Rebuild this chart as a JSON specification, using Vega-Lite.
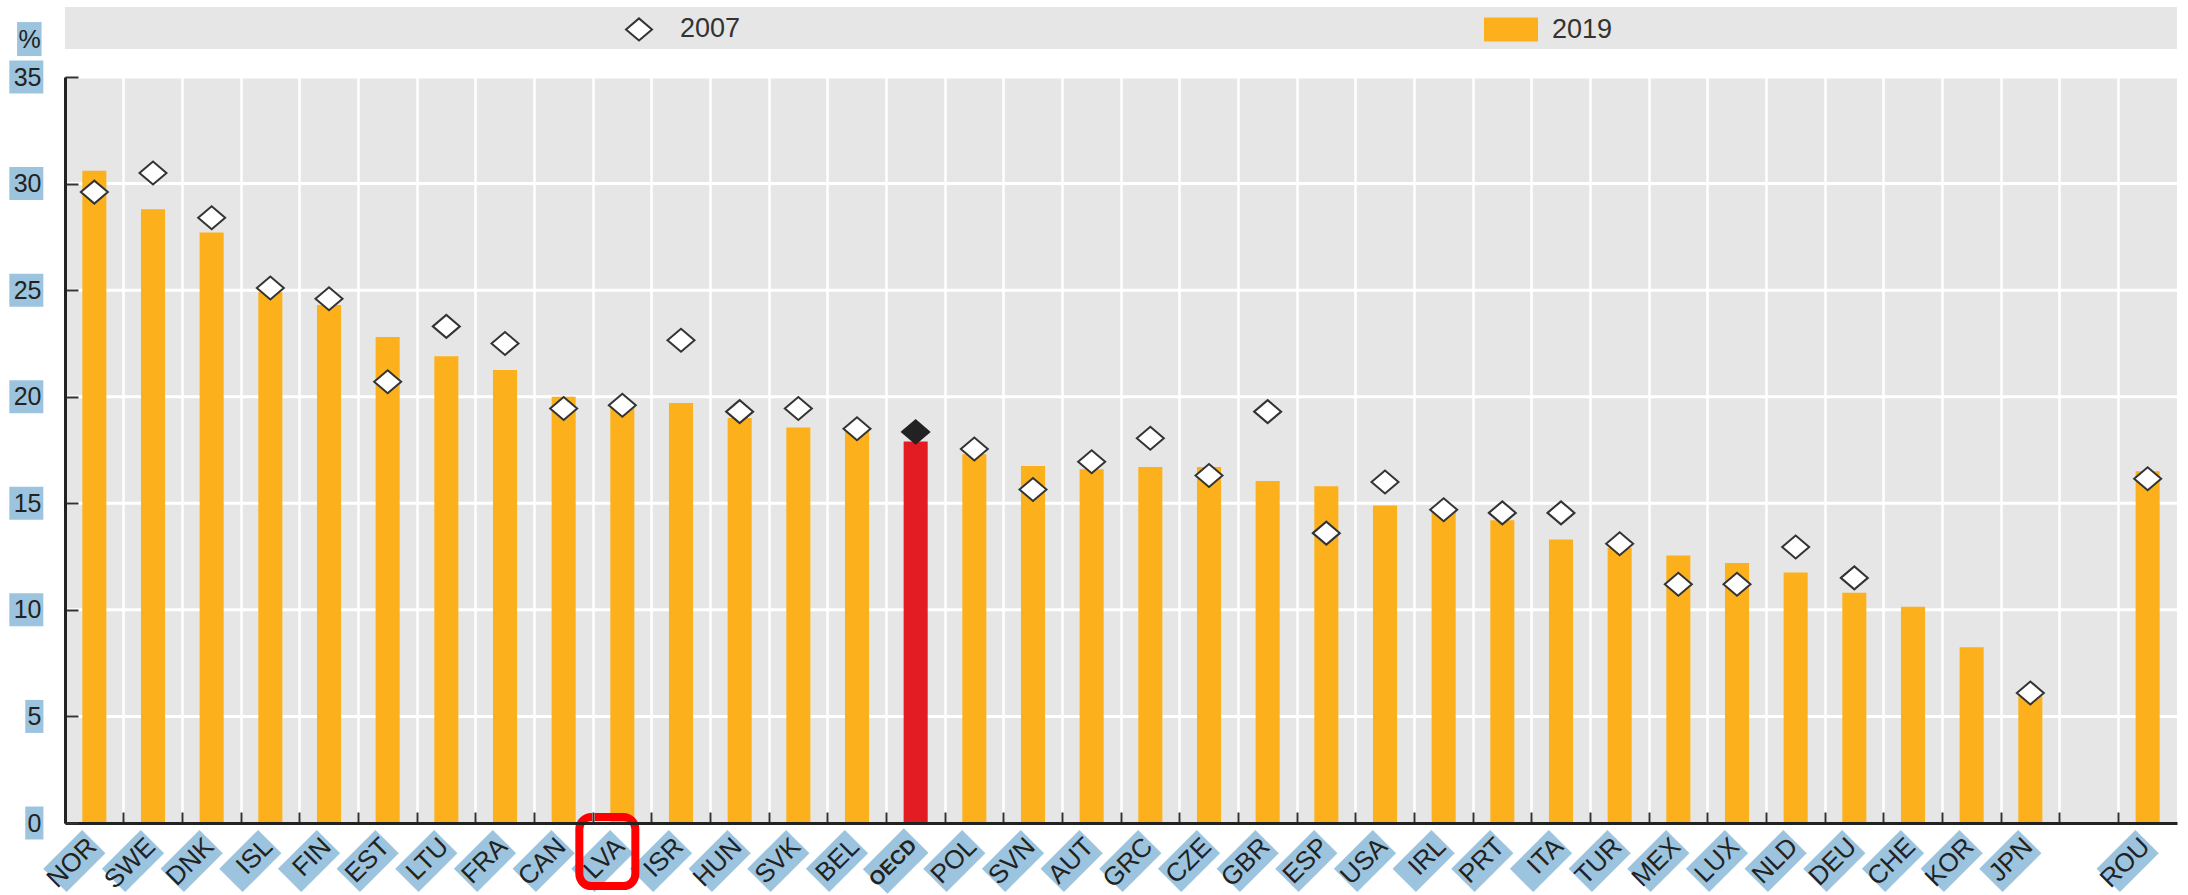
{
  "$schema": "https://vega.github.io/schema/vega-lite/v6.json",
  "width": 2112,
  "height": 746,
  "autosize": {"type": "none"},
  "padding": {"left": 65, "top": 77, "right": 11, "bottom": 72},
  "background": "white",
  "config": {
    "view": {"fill": "#e6e6e6", "stroke": null},
    "font": "Liberation Sans",
    "axisX": {
      "bandPosition": 0,
      "grid": true, "gridColor": "white", "gridWidth": 2.5, "gridOpacity": 1,
      "domainColor": "#222222", "domainWidth": 3,
      "ticks": true, "tickSize": -11, "tickColor": "#333333", "tickWidth": 2,
      "labelAngle": -45, "labelAlign": "right", "labelBaseline": "middle",
      "labelColor": "#222222", "labelOffset": -2, "labelPadding": 30,
      "labelOverlap": false, "title": null
    },
    "axisY": {
      "grid": false,
      "domainColor": "#222222", "domainWidth": 3,
      "ticks": true, "tickSize": -13, "tickColor": "#333333", "tickWidth": 2,
      "labelFontSize": 25, "labelColor": "#222222", "labelPadding": 37
    }
  },
  "datasets": {
    "main": [
      {"country": "NOR", "y2019": 30.6, "y2007": 29.6},
      {"country": "SWE", "y2019": 28.8, "y2007": 30.5},
      {"country": "DNK", "y2019": 27.7, "y2007": 28.4},
      {"country": "ISL", "y2019": 24.9, "y2007": 25.1},
      {"country": "FIN", "y2019": 24.3, "y2007": 24.6},
      {"country": "EST", "y2019": 22.8, "y2007": 20.7},
      {"country": "LTU", "y2019": 21.9, "y2007": 23.3},
      {"country": "FRA", "y2019": 21.25, "y2007": 22.5},
      {"country": "CAN", "y2019": 20.0, "y2007": 19.45},
      {"country": "LVA", "y2019": 19.6, "y2007": 19.6},
      {"country": "ISR", "y2019": 19.7, "y2007": 22.65},
      {"country": "HUN", "y2019": 19.0, "y2007": 19.3},
      {"country": "SVK", "y2019": 18.55, "y2007": 19.45},
      {"country": "BEL", "y2019": 18.4, "y2007": 18.5},
      {"country": "OECD", "y2019": 17.9, "y2007": 18.35},
      {"country": "POL", "y2019": 17.3, "y2007": 17.55},
      {"country": "SVN", "y2019": 16.75, "y2007": 15.65},
      {"country": "AUT", "y2019": 16.6, "y2007": 16.95},
      {"country": "GRC", "y2019": 16.7, "y2007": 18.05},
      {"country": "CZE", "y2019": 16.7, "y2007": 16.3},
      {"country": "GBR", "y2019": 16.05, "y2007": 19.3},
      {"country": "ESP", "y2019": 15.8, "y2007": 13.6},
      {"country": "USA", "y2019": 14.9, "y2007": 16.0},
      {"country": "IRL", "y2019": 14.65, "y2007": 14.7},
      {"country": "PRT", "y2019": 14.2, "y2007": 14.55},
      {"country": "ITA", "y2019": 13.3, "y2007": 14.55},
      {"country": "TUR", "y2019": 12.9, "y2007": 13.1},
      {"country": "MEX", "y2019": 12.55, "y2007": 11.2},
      {"country": "LUX", "y2019": 12.2, "y2007": 11.2},
      {"country": "NLD", "y2019": 11.75, "y2007": 12.95},
      {"country": "DEU", "y2019": 10.8, "y2007": 11.5},
      {"country": "CHE", "y2019": 10.15, "y2007": null},
      {"country": "KOR", "y2019": 8.25, "y2007": null},
      {"country": "JPN", "y2019": 5.95, "y2007": 6.1},
      {"country": " ", "y2019": null, "y2007": null},
      {"country": "ROU", "y2019": 16.5, "y2007": 16.15}
    ],
    "yticks": [
      {"v": 0}, {"v": 5}, {"v": 10}, {"v": 15}, {"v": 20}, {"v": 25}, {"v": 30}, {"v": 35}
    ]
  },
  "layer": [
    {
      "data": {"values": [{}]},
      "mark": {"type": "rect", "fill": "#e6e6e6"},
      "encoding": {
        "x": {"datum": "NOR", "bandPosition": 0, "type": "nominal"},
        "x2": {"datum": "ROU", "bandPosition": 1},
        "y": {"datum": 36.31, "type": "quantitative"},
        "y2": {"datum": 38.28}
      }
    },
    {
      "data": {"name": "yticks"},
      "transform": [{"filter": "datum.v > 0"}],
      "mark": {"type": "rule", "stroke": "white", "strokeWidth": 3},
      "encoding": {
        "y": {"field": "v", "type": "quantitative"}
      }
    },
    {
      "data": {"name": "main"},
      "transform": [{"filter": "datum.country !== 'OECD'"}],
      "mark": {"type": "bar", "width": {"band": 0.41}},
      "encoding": {
        "x": {
          "field": "country", "type": "nominal", "sort": null,
          "scale": {"paddingInner": 0, "paddingOuter": 0,
            "domain": ["NOR","SWE","DNK","ISL","FIN","EST","LTU","FRA","CAN","LVA","ISR","HUN","SVK","BEL","OECD","POL","SVN","AUT","GRC","CZE","GBR","ESP","USA","IRL","PRT","ITA","TUR","MEX","LUX","NLD","DEU","CHE","KOR","JPN"," ","ROU"]},
          "axis": {
            "title": null, "zindex": 1,
            "labelFontWeight": {"condition": {"test": "datum.value === 'OECD'", "value": "bold"}, "value": "normal"},
            "labelFontSize": {"condition": {"test": "datum.value === 'OECD'", "value": 20}, "value": 26}
          }
        },
        "y": {
          "field": "y2019", "type": "quantitative",
          "scale": {"domain": [0, 35], "nice": false, "zero": true},
          "axis": {"zindex": 1, "values": [0, 5, 10, 15, 20, 25, 30, 35], "title": "%", "titleAngle": 0, "titleFontSize": 25, "titleFontWeight": "normal", "titleColor": "#222222", "titleX": -36, "titleY": -38, "titleAlign": "center", "titleBaseline": "middle"}
        },
        "fill": {
          "datum": "2019", "type": "nominal",
          "scale": {"domain": ["2007", "2019"], "range": ["#ffffff", "#fcb11c"]},
          "legend": {
            "orient": "none", "legendX": 547, "legendY": -75, "direction": "horizontal", "title": null,
            "symbolSize": 2704, "labelFontSize": 27, "labelColor": "#333333", "labelOffset": 14,
            "columnPadding": 740, "padding": 0, "symbolStrokeWidth": 2,
            "encode": {"symbols": {"update": {
              "shape": {"signal": "datum.value === '2007' ? 'M-1,0L0,-0.85L1,0L0,0.85Z' : 'M-1,-0.42L1,-0.42L1,0.42L-1,0.42Z'"},
              "size": {"signal": "datum.value === '2007' ? 676 : 2704"},
              "stroke": {"signal": "datum.value === '2007' ? '#333333' : '#fcb11c'"},
              "strokeWidth": {"value": 2},
              "opacity": {"value": 1}
            }}}
          }
        }
      }
    },
    {
      "data": {"name": "main"},
      "transform": [{"filter": "datum.country === 'OECD'"}],
      "mark": {"type": "bar", "width": {"band": 0.41}, "fill": "#e31b23"},
      "encoding": {
        "x": {"field": "country", "type": "nominal", "sort": null},
        "y": {"field": "y2019", "type": "quantitative"}
      }
    },
    {
      "data": {"name": "main"},
      "transform": [{"filter": "datum.country !== 'OECD' && isValid(datum.y2007)"}],
      "mark": {"type": "point", "shape": "M-1,0L0,-0.85L1,0L0,0.85Z", "size": 729, "filled": true, "stroke": "#333333", "strokeWidth": 2, "opacity": 1},
      "encoding": {
        "x": {"field": "country", "type": "nominal", "sort": null},
        "y": {"field": "y2007", "type": "quantitative"},
        "fill": {"datum": "2007", "type": "nominal"}
      }
    },
    {
      "data": {"name": "main"},
      "transform": [{"filter": "datum.country === 'OECD'"}],
      "mark": {"type": "point", "shape": "M-1,0L0,-0.85L1,0L0,0.85Z", "size": 729, "filled": true, "fill": "#222222", "stroke": "#222222", "strokeWidth": 2, "opacity": 1},
      "encoding": {
        "x": {"field": "country", "type": "nominal", "sort": null},
        "y": {"field": "y2007", "type": "quantitative"}
      }
    },
    {
      "data": {"name": "main"},
      "transform": [{"filter": "datum.country !== ' '"}],
      "mark": {"type": "point", "shape": "M-1,-0.6L1,-0.6L1,0.6L-1,0.6Z", "angle": -45, "filled": true, "fill": "#9dc4de", "opacity": 1, "strokeWidth": 0, "xOffset": -20, "yOffset": 38},
      "encoding": {
        "x": {"field": "country", "type": "nominal", "sort": null},
        "y": {"datum": 0, "type": "quantitative"},
        "size": {"condition": {"test": "datum.country === 'OECD'", "value": 3364}, "value": 3025}
      }
    },
    {
      "data": {"name": "yticks"},
      "transform": [{"filter": "datum.v >= 10"}],
      "mark": {"type": "point", "shape": "M-1,-0.97L1,-0.97L1,0.97L-1,0.97Z", "size": 1156, "filled": true, "fill": "#9dc4de", "opacity": 1, "strokeWidth": 0, "xOffset": -68},
      "encoding": {
        "x": {"datum": "NOR", "type": "nominal"},
        "y": {"field": "v", "type": "quantitative"}
      }
    },
    {
      "data": {"name": "yticks"},
      "transform": [{"filter": "datum.v < 10"}],
      "mark": {"type": "point", "shape": "M-0.55,-1L0.55,-1L0.55,1L-0.55,1Z", "size": 1089, "filled": true, "fill": "#9dc4de", "opacity": 1, "strokeWidth": 0, "xOffset": -60},
      "encoding": {
        "x": {"datum": "NOR", "type": "nominal"},
        "y": {"field": "v", "type": "quantitative"}
      }
    },
    {
      "data": {"values": [{}]},
      "mark": {"type": "point", "shape": "M-0.72,-1L0.72,-1L0.72,1L-0.72,1Z", "size": 1156, "filled": true, "fill": "#9dc4de", "opacity": 1, "strokeWidth": 0, "xOffset": -65},
      "encoding": {
        "x": {"datum": "NOR", "type": "nominal"},
        "y": {"datum": 36.78, "type": "quantitative"}
      }
    },
    {
      "data": {"values": [{}]},
      "mark": {"type": "bar", "width": 56, "xOffset": -15, "fill": "transparent", "stroke": "#ff0000", "strokeWidth": 8, "cornerRadius": 12},
      "encoding": {
        "x": {"datum": "LVA", "type": "nominal"},
        "y": {"datum": 0.28, "type": "quantitative"},
        "y2": {"datum": -2.96}
      }
    }
  ]
}
